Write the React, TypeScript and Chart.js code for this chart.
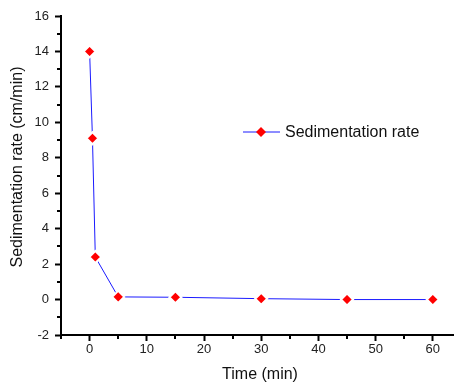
import React, { useEffect, useRef } from 'react';
import { Chart, registerables } from 'chart.js';

Chart.register(...registerables);

// ---- data ----
const timeMin = [0, 0.5, 1, 5, 15, 30, 45, 60];
const sedRate = [14, 9.1, 2.4, 0.15, 0.13, 0.05, 0.0, 0.0];
const xTickValues = [-5, 0, 5, 10, 15, 20, 25, 30, 35, 40, 45, 50, 55, 60];
const yTickValues = [-2, -1, 0, 1, 2, 3, 4, 5, 6, 7, 8, 9, 10, 11, 12, 13, 14, 15, 16];
const xMajorStep = 10;
const yMajorStep = 2;
const seriesLabel = 'Sedimentation rate';
const xTitle = 'Time (min)';
const yTitle = 'Sedimentation rate (cm/min)';

const FONT = "'Liberation Sans', Arial, sans-serif";
const LINE_COLOR = '#1a1aff';
const MARK_COLOR = '#ff0000';

const isMajor = (v: number, step: number) => Math.abs(v % step) < 1e-9;

const decorPlugin = {
  id: 'decor',
  afterDraw(chart: any) {
    const ctx = chart.ctx;
    const { left, bottom } = chart.chartArea;
    const xs = chart.scales.x;
    const ys = chart.scales.y;
    ctx.save();
    // minor ticks
    ctx.strokeStyle = '#000';
    ctx.lineWidth = 2;
    ctx.beginPath();
    xTickValues.forEach((v) => {
      if (isMajor(v, xMajorStep)) return;
      const px = Math.round(xs.getPixelForValue(v));
      ctx.moveTo(px, bottom);
      ctx.lineTo(px, bottom + 4);
    });
    yTickValues.forEach((v) => {
      if (isMajor(v, yMajorStep)) return;
      const py = Math.round(ys.getPixelForValue(v));
      ctx.moveTo(left, py);
      ctx.lineTo(left - 4, py);
    });
    ctx.stroke();

    // titles
    ctx.fillStyle = '#111';
    ctx.font = `16px ${FONT}`;
    ctx.textAlign = 'center';
    ctx.textBaseline = 'middle';
    ctx.fillText(xTitle, 260, 375);
    ctx.save();
    ctx.translate(18, 167);
    ctx.rotate(-Math.PI / 2);
    ctx.fillText(yTitle, 0, 0);
    ctx.restore();

    // legend
    const ly = 132;
    ctx.strokeStyle = LINE_COLOR;
    ctx.lineWidth = 1;
    ctx.beginPath();
    ctx.moveTo(243, ly);
    ctx.lineTo(280, ly);
    ctx.stroke();
    ctx.fillStyle = MARK_COLOR;
    ctx.beginPath();
    const r = 5;
    ctx.moveTo(261 - r, ly);
    ctx.lineTo(261, ly - r);
    ctx.lineTo(261 + r, ly);
    ctx.lineTo(261, ly + r);
    ctx.closePath();
    ctx.fill();
    ctx.fillStyle = '#111';
    ctx.textAlign = 'left';
    ctx.fillText(seriesLabel, 285, ly + 1);
    ctx.restore();
  },
};

export default function App() {
  const ref = useRef<HTMLCanvasElement | null>(null);

  useEffect(() => {
    if (!ref.current) return;
    const chart = new Chart(ref.current, {
      type: 'line',
      data: {
        datasets: [
          {
            label: seriesLabel,
            data: timeMin.map((t, i) => ({ x: t, y: sedRate[i] })),
            borderColor: LINE_COLOR,
            borderWidth: 1,
            pointStyle: 'rectRot',
            pointRadius: 6,
            pointBackgroundColor: MARK_COLOR,
            pointBorderColor: '#ffffff',
            pointBorderWidth: 2,
            tension: 0,
            fill: false,
          },
        ],
      },
      options: {
        animation: false,
        responsive: false,
        devicePixelRatio: 1,
        layout: { autoPadding: false, padding: { top: 16, right: 0, left: 0, bottom: 0 } },
        plugins: { legend: { display: false }, tooltip: { enabled: false } },
        scales: {
          x: {
            type: 'linear',
            min: -5,
            max: 63.7,
            afterBuildTicks: (s: any) => {
              s.ticks = xTickValues.map((v) => ({ value: v }));
            },
            afterFit: (s: any) => {
              s.height = 50;
              s.paddingLeft = 0;
              s.paddingRight = 0;
            },
            grid: {
              display: true,
              drawOnChartArea: false,
              drawTicks: true,
              tickLength: 6,
              tickWidth: 2,
              tickColor: (c: any) =>
                c.tick && isMajor(c.tick.value, xMajorStep) ? '#000' : 'rgba(0,0,0,0)',
            },
            border: { display: true, color: '#000', width: 2 },
            ticks: {
              autoSkip: false,
              maxRotation: 0,
              minRotation: 0,
              padding: 1,
              color: '#222',
              font: { family: FONT, size: 13 },
              callback: (v: any) => (isMajor(Number(v), xMajorStep) ? String(v) : ''),
            },
          },
          y: {
            type: 'linear',
            min: -2,
            max: 16,
            afterBuildTicks: (s: any) => {
              s.ticks = yTickValues.map((v) => ({ value: v }));
            },
            afterFit: (s: any) => {
              s.width = 61;
              s.paddingTop = 0;
              s.paddingBottom = 0;
            },
            grid: {
              display: true,
              drawOnChartArea: false,
              drawTicks: true,
              tickLength: 6,
              tickWidth: 2,
              tickColor: (c: any) =>
                c.tick && isMajor(c.tick.value, yMajorStep) ? '#000' : 'rgba(0,0,0,0)',
            },
            border: { display: true, color: '#000', width: 2 },
            ticks: {
              autoSkip: false,
              padding: 6,
              color: '#222',
              font: { family: FONT, size: 13 },
              callback: (v: any) => (isMajor(Number(v), yMajorStep) ? String(v) : ''),
            },
          },
        },
      },
      plugins: [decorPlugin],
    });
    return () => chart.destroy();
  }, []);

  return (
    <div style={{ position: 'fixed', left: 0, top: 0, width: 454, height: 385, background: '#fff' }}>
      <canvas ref={ref} width={454} height={385} style={{ display: 'block', width: 454, height: 385 }} />
    </div>
  );
}
